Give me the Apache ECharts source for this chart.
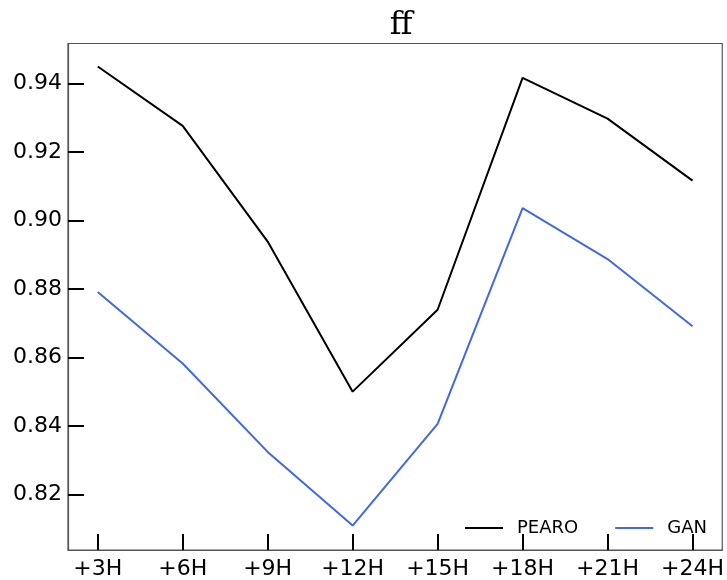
<!DOCTYPE html>
<html>
<head>
<meta charset="utf-8">
<script src="https://cdn.jsdelivr.net/npm/echarts@6/dist/echarts.min.js"></script>
<style>
  html, body { margin: 0; padding: 0; background: #fff; overflow: hidden; }
  #chart { width: 727px; height: 580px; }
</style>
</head>
<body>
<div id="chart"></div>
<script>
// Lead-time categories along the x axis
const categories = ['+3H', '+6H', '+9H', '+12H', '+15H', '+18H', '+21H', '+24H'];

// Score per lead time for each method
const pearo = [0.9450, 0.9277, 0.8939, 0.8501, 0.8740, 0.9417, 0.9298, 0.9117];
const gan   = [0.8792, 0.8583, 0.8325, 0.8110, 0.8407, 0.9037, 0.8888, 0.8692];

// Y tick positions
const yTicks = [0.82, 0.84, 0.86, 0.88, 0.90, 0.92, 0.94];

const xIdx = categories.map((_, i) => i);
const pair = arr => arr.map((v, i) => [i, v]);

const chart = echarts.init(document.getElementById('chart'), null, { renderer: 'canvas', width: 727, height: 580 });

const labelFont = { color: '#000', fontSize: 22, fontFamily: 'DejaVu Sans' };

chart.setOption({
  backgroundColor: '#fff',
  animation: false,
  title: {
    text: 'ff',
    left: 396,
    top: 5,
    textAlign: 'center',
    textStyle: { fontFamily: 'DejaVu Serif', fontWeight: 'normal', fontSize: 32, color: '#000' }
  },
  grid: {
    left: 68, top: 43.5, width: 656, height: 510.5,
    show: true, borderColor: '#555', borderWidth: 1.2,
    containLabel: false
  },
  legend: {
    left: 465,
    top: 519,
    padding: 0,
    icon: 'rect',
    itemWidth: 38,
    itemHeight: 2,
    itemGap: 37,
    textStyle: { fontSize: 18, fontFamily: 'DejaVu Sans', color: '#000', padding: [0, 0, 0, 9] },
    data: ['PEARO', 'GAN']
  },
  xAxis: {
    type: 'value',
    min: -0.35,
    max: categories.length - 1 + 0.35,
    splitLine: { show: false },
    axisLine: { show: true, onZero: false, lineStyle: { color: '#555', width: 1.2 } },
    axisTick: {
      show: true, inside: true, length: 16,
      customValues: xIdx,
      lineStyle: { color: '#000', width: 2 }
    },
    axisLabel: {
      ...labelFont,
      margin: 8,
      customValues: xIdx,
      formatter: v => categories[Math.round(v)] || ''
    }
  },
  yAxis: {
    type: 'value',
    min: 0.80387,
    max: 0.95173,
    splitLine: { show: false },
    axisLine: { show: true, onZero: false, lineStyle: { color: '#555', width: 1.2 } },
    axisTick: {
      show: true, inside: true, length: 16,
      customValues: yTicks,
      lineStyle: { color: '#000', width: 2 }
    },
    axisLabel: {
      ...labelFont,
      margin: 6,
      customValues: yTicks,
      formatter: v => v.toFixed(2)
    }
  },
  series: [
    {
      name: 'PEARO',
      type: 'line',
      data: pair(pearo),
      showSymbol: false,
      color: '#000',
      lineStyle: { color: '#000', width: 2 }
    },
    {
      name: 'GAN',
      type: 'line',
      data: pair(gan),
      showSymbol: false,
      color: '#4169e1',
      lineStyle: { color: '#4169e1', width: 2 }
    }
  ]
});
</script>
</body>
</html>
